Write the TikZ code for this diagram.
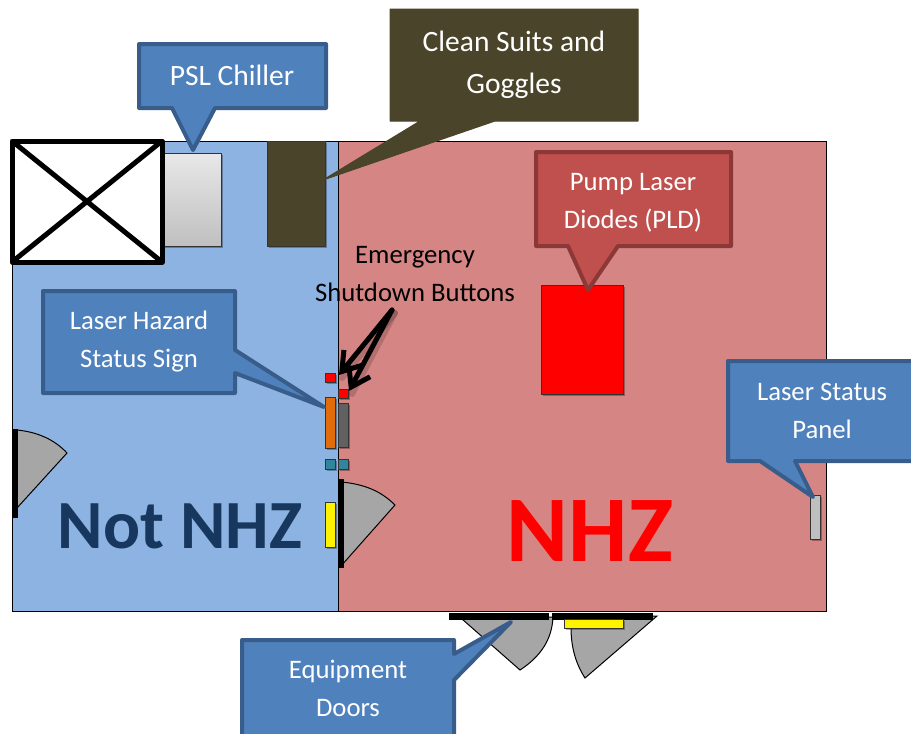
\documentclass[tikz,border=0pt]{standalone}
\usepackage{fontspec}
\setmainfont{Carlito}
\usetikzlibrary{arrows.meta,shadows}
\definecolor{roomblue}{HTML}{8DB3E2}
\definecolor{roompink}{HTML}{D68585}
\definecolor{calloutblue}{HTML}{4F81BD}
\definecolor{calloutblueedge}{HTML}{385D8A}
\definecolor{calloutred}{HTML}{C0504D}
\definecolor{calloutrededge}{HTML}{8C3836}
\definecolor{olivebox}{HTML}{4A452A}
\definecolor{doorgray}{HTML}{A6A6A6}
\definecolor{teal}{HTML}{31859C}
\definecolor{orangebox}{HTML}{E36C0A}
\definecolor{navytext}{HTML}{17375E}
\tikzset{
  softshadow/.style={drop shadow={shadow xshift=1.5pt,shadow yshift=-1.5pt,opacity=.3,fill=black}},
  room/.style={draw=black,line width=1pt},
  device/.style={draw=black!80,line width=.9pt,softshadow},
  bluecall/.style={fill=calloutblue,draw=calloutblueedge,line width=4pt,line join=round},
  redcall/.style={fill=calloutred,draw=calloutrededge,line width=4pt,line join=round},
  olivecall/.style={fill=olivebox,draw=olivebox,line width=1pt,line join=round},
  calltext/.style={text=white,align=center,font=\fontsize{26.7}{38}\selectfont,inner sep=0pt},
  bigcalltext/.style={text=white,align=center,font=\fontsize{29.5}{42}\selectfont,inner sep=0pt},
  doorshape/.style={fill=doorgray,draw=black,line width=1pt},
  doorbar/.style={fill=black,draw=black,line width=.5pt},
  hazardblue/.style={font=\fontsize{69}{80}\selectfont\bfseries,inner sep=0pt,text=navytext},
  hazardred/.style={font=\fontsize{94}{100}\selectfont\bfseries,inner sep=0pt,text=red},
  barb/.style={draw=black,line width=5pt,-{Straight Barb[length=18pt,width=24pt,line width=5pt]},line cap=round},
  barbshade/.style={draw=black,opacity=.16,line width=6pt,line cap=round}
}
\begin{document}
\begin{tikzpicture}[x=1pt,y=-1pt]
\useasboundingbox (0,0) rectangle (911,734);
% rooms
\fill[white] (0,0) rectangle (911,734);
\draw[room,fill=roomblue] (12,141) rectangle (338,611);
\draw[room,fill=roompink] (338,141) rectangle (826,611);
% X box
\draw[device,top color=gray!18,bottom color=gray!50] (162,153) rectangle (221,246);
\draw[device,fill=olivebox] (267,141) rectangle (325,246);
\draw[draw=black,line width=5pt,fill=white,line join=round,softshadow] (12,141) rectangle (162,262);
\draw[black,line width=5pt] (12,141) -- (162,262) (12,262) -- (162,141);
% pump laser box
\draw[device,fill=red] (541,285) rectangle (623,394);
% wall items
\draw[device,fill=red] (325,373) rectangle (335,382);
\draw[device,fill=red] (338,389) rectangle (348,398);
\draw[device,fill=orangebox] (325,397) rectangle (335,448);
\draw[device,fill=black!62] (338,403) rectangle (348,447);
\draw[device,fill=teal] (325,459) rectangle (335,469);
\draw[device,fill=teal] (338,459) rectangle (348,469);
\draw[device,fill=yellow] (325,502) rectangle (335,547);
\draw[device,fill=black!25] (810,495) rectangle (820,539);
% doors
\draw[doorshape] (341,482) .. controls (364,484) and (381,491) .. (395,505) -- (341,566) -- cycle;
\fill[doorbar] (338,479) rectangle (343,567);
\draw[doorshape] (17,430) .. controls (38,432) and (55,440) .. (67,453) -- (17,508) -- cycle;
\fill[doorbar] (12,429) rectangle (17,517);
\draw[doorshape] (462,619) -- (520,670) .. controls (540,657) and (552,640) .. (553,617) -- cycle;
\draw[doorshape] (571,627) .. controls (571,648) and (576,664) .. (585,678) -- (657,616) -- (640,616) -- cycle;
\fill[doorbar] (449,613) rectangle (548,619);
\fill[doorbar] (552,613) rectangle (652,619);
\draw[device,fill=yellow] (564,619) rectangle (623,628);
% hazard labels
\node[hazardblue] (notnhz) at (180,526) {Not NHZ};
\node[hazardred] (nhz) at (590,531) {NHZ};
% callouts
\draw[bluecall] (139,44) -- (326,44) -- (326,108) -- (215,108) -- (193,150) -- (172,108) -- (139,108) -- cycle;
\node[bigcalltext] (psl) at (232,75) {PSL Chiller};
\draw[olivecall] (390,9) -- (638,9) -- (638,121) -- (495,121) -- (323,180) -- (420,121) -- (390,121) -- cycle;
\node[bigcalltext] (suits) at (514,65) {Clean Suits and\\Goggles};
\draw[redcall] (536,152) -- (731,152) -- (731,246) -- (618,246) -- (588,290) -- (568,246) -- (536,246) -- cycle;
\node[calltext] (pump) at (633,203) {Pump Laser\\Diodes (PLD)};
\draw[bluecall] (43,291) -- (235,291) -- (235,350) -- (324,407) -- (235,373) -- (235,393) -- (43,393) -- cycle;
\node[calltext] (hazardsign) at (139,342) {Laser Hazard\\Status Sign};
\draw[bluecall] (728,361) -- (913,361) -- (913,461) -- (795,461) -- (813,497) -- (760,461) -- (728,461) -- cycle;
\node[calltext] (panel) at (822,411) {Laser Status\\Panel};
\draw[bluecall] (242,640) -- (454,640) -- (454,654) -- (511,622) -- (454,680) -- (454,736) -- (242,736) -- cycle;
\node[calltext] (equip) at (348,688) {Equipment\\Doors};
% emergency buttons label and arrows
\node[calltext,text=black] (estop) at (415,274) {Emergency\\Shutdown Buttons};
\coordinate (estopfrom) at (392,310);
\coordinate (btnA) at (339,375);
\coordinate (btnB) at (349,391);
\draw[barbshade] ([shift={(3,3)}]estopfrom) -- ([shift={(3,3)}]btnA);
\draw[barbshade] ([shift={(3,3)}]estopfrom) -- ([shift={(3,3)}]btnB);
\draw[barb] (estopfrom) -- (btnA);
\draw[barb] (estopfrom) -- (btnB);
\end{tikzpicture}
\end{document}
